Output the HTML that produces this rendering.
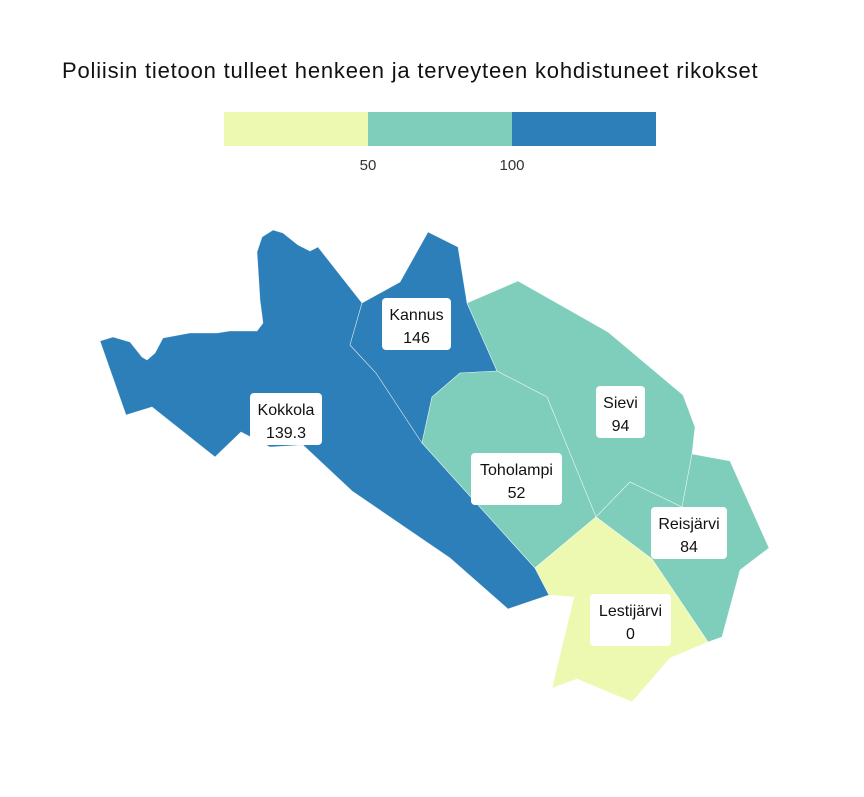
<!DOCTYPE html>
<html><head><meta charset="utf-8"><style>
body{margin:0;background:#fff;font-family:"Liberation Sans",sans-serif}
svg text{font-family:"Liberation Sans",sans-serif}
</style></head><body>
<svg id="c" width="864" height="792" xmlns="http://www.w3.org/2000/svg">
<rect width="864" height="792" fill="#fff"/>
<text x="62" y="78" font-size="22" letter-spacing="0.8" fill="#111">Poliisin tietoon tulleet henkeen ja terveyteen kohdistuneet rikokset</text>
<g id="legend"></g>
<g id="map"></g>
<g id="labels"></g>
</svg>
<script>
const regions = ["Kokkola","Kannus","Sievi","Toholampi","Reisjärvi","Lestijärvi"];
const values = [139.3, 146, 94, 52, 84, 0];
const thresholds = [50, 100];
const tickLabels = ["50","100"];
const colors = ["#edf8b1","#7fcdbb","#2c7fb8"];
const shapes = {
 "Kokkola":"100,341 113,337 130,342 142,357 147,360 155,353 163,338 190,333 217,333 230,331 257,331 263,323 260,300 257,252 262,237 273,230 283,233 298,245 310,251 318,247 362,303 350,345 376,373 422,443 535,568 549,595 508,609 450,558 352,491 303,445 270,447 241,432 215,457 152,407 126,415",
 "Kannus":"362,303 400,282 428,232 458,247 467,303 497,371 460,373 432,397 422,443 376,373 350,345",
 "Sievi":"467,303 518,281 608,332 683,395 695,427 692,454 682,507 630,482 596,517 547,397 497,371",
 "Toholampi":"497,371 547,397 596,517 535,568 422,443 432,397 460,373",
 "Reisjärvi":"692,454 730,461 769,548 740,570 722,637 708,642 652,559 596,517 630,482 682,507",
 "Lestijärvi":"596,517 652,559 708,642 670,658 632,702 577,679 552,688 574,597 549,595 535,568"
};
const labelBoxes = {"Kokkola":[250,393,72],"Kannus":[382,298,69],"Sievi":[596,386,49],"Toholampi":[471,453,91],"Reisjärvi":[651,507,76],"Lestijärvi":[590,594,81]};
const NS="http://www.w3.org/2000/svg";
function colorFor(v){let i=0;while(i<thresholds.length&&v>=thresholds[i])i++;return colors[i];}
function el(t,a,p){const e=document.createElementNS(NS,t);for(const k in a)e.setAttribute(k,a[k]);p.appendChild(e);return e;}
const lg=document.getElementById('legend');
const lx0=224,lw=432,vmax=150;
const lscale=v=>lx0+v/vmax*lw;
const edges=[0,...thresholds,vmax];
for(let i=0;i<colors.length;i++){
 const r=el('rect',{x:lscale(edges[i]),y:112,width:lscale(edges[i+1])-lscale(edges[i]),height:34,fill:colors[i]},lg);
 
 
}
thresholds.forEach((t,i)=>{
 const tx=el('text',{x:lscale(t),y:170,'font-size':15,'text-anchor':'middle',fill:'#333'},lg);
 tx.textContent=tickLabels[i];
 
 
});
const mp=document.getElementById('map'),lb=document.getElementById('labels');
regions.forEach((n,i)=>{
 const p=el('polygon',{points:shapes[n],fill:colorFor(values[i]),stroke:'#ffffff','stroke-width':0.6,'stroke-opacity':0.7},mp);
 
 
 const [bx,by,bw]=labelBoxes[n];
 const g=el('g',{},lb);
 
 
 el('rect',{x:bx,y:by,width:bw,height:52,rx:4,fill:'#fff'},g);
 const t1=el('text',{x:bx+bw/2,y:by+22,'font-size':16,'text-anchor':'middle',fill:'#111'},g);t1.textContent=n;
 const t2=el('text',{x:bx+bw/2,y:by+45,'font-size':16,'text-anchor':'middle',fill:'#111'},g);t2.textContent=String(values[i]);
});
</script>
</body></html>
